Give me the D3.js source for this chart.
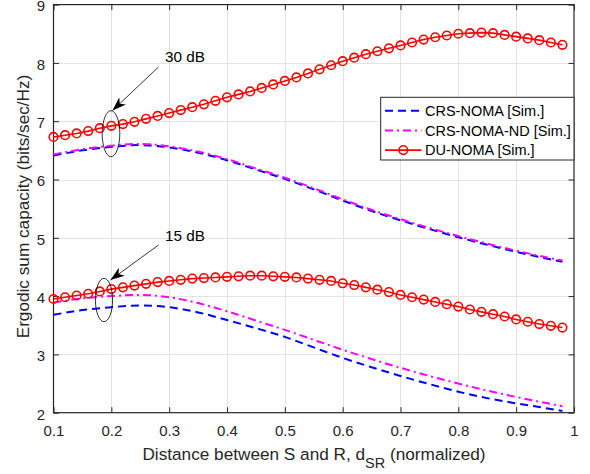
<!DOCTYPE html>
<html>
<head>
<meta charset="utf-8">
<script src="https://cdn.jsdelivr.net/npm/d3@7/dist/d3.min.js"></script>
<style>
  html, body { margin: 0; padding: 0; background: #fff; }
  svg { display: block; font-family: "Liberation Sans", Arial, Helvetica, sans-serif; }
</style>
</head>
<body>
<svg id="chart" width="590" height="474"></svg>
<script>
// Normalized S–R distance at which the DU-NOMA curves are sampled (markers)
const dsrMarkers = [0.10, 0.12, 0.14, 0.16, 0.18, 0.20, 0.22, 0.24, 0.26, 0.28,
                    0.30, 0.32, 0.34, 0.36, 0.38, 0.40, 0.42, 0.44, 0.46, 0.48,
                    0.50, 0.52, 0.54, 0.56, 0.58, 0.60, 0.62, 0.64, 0.66, 0.68,
                    0.70, 0.72, 0.74, 0.76, 0.78, 0.80, 0.82, 0.84, 0.86, 0.88,
                    0.90, 0.92, 0.94, 0.96, 0.98];

// DU-NOMA ergodic sum capacity, 30 dB and 15 dB
const duNoma30 = [6.73, 6.76, 6.79, 6.83, 6.88, 6.92, 6.95, 6.99, 7.04, 7.09,
                  7.14, 7.19, 7.24, 7.29, 7.35, 7.41, 7.46, 7.51, 7.57, 7.63,
                  7.69, 7.75, 7.82, 7.89, 7.96, 8.03, 8.09, 8.15, 8.20, 8.25,
                  8.30, 8.35, 8.40, 8.44, 8.47, 8.50, 8.51, 8.52, 8.51, 8.48,
                  8.45, 8.42, 8.39, 8.35, 8.31];
const duNoma15 = [3.95, 3.98, 4.01, 4.04, 4.08, 4.12, 4.15, 4.18, 4.21, 4.24,
                  4.26, 4.28, 4.30, 4.31, 4.32, 4.33, 4.34, 4.35, 4.35, 4.34,
                  4.33, 4.32, 4.30, 4.28, 4.26, 4.22, 4.19, 4.15, 4.11, 4.07,
                  4.02, 3.98, 3.94, 3.90, 3.86, 3.82, 3.77, 3.73, 3.69, 3.65,
                  3.60, 3.56, 3.52, 3.49, 3.46];

// CRS-NOMA and CRS-NOMA-ND (no markers)
const dsrLine = [0.10, 0.15, 0.20, 0.25, 0.30, 0.35, 0.40, 0.45, 0.50, 0.55,
                 0.60, 0.65, 0.70, 0.75, 0.80, 0.85, 0.90, 0.95, 0.98];
const crsNoma30   = [6.41, 6.50, 6.56, 6.59, 6.55, 6.46, 6.33, 6.17, 6.01, 5.83,
                     5.64, 5.46, 5.30, 5.15, 5.01, 4.88, 4.76, 4.65, 4.59];
const crsNomaNd30 = [6.43, 6.52, 6.58, 6.61, 6.57, 6.48, 6.35, 6.19, 6.03, 5.85,
                     5.66, 5.48, 5.32, 5.17, 5.03, 4.90, 4.78, 4.67, 4.61];
const crsNoma15   = [3.68, 3.76, 3.81, 3.84, 3.81, 3.72, 3.59, 3.45, 3.30, 3.12,
                     2.94, 2.78, 2.63, 2.49, 2.36, 2.25, 2.16, 2.08, 2.03];
const crsNomaNd15 = [3.89, 3.96, 4.00, 4.02, 3.98, 3.88, 3.74, 3.58, 3.42, 3.25,
                     3.08, 2.92, 2.77, 2.63, 2.50, 2.38, 2.27, 2.17, 2.11];

const xTicks = [0.1, 0.2, 0.3, 0.4, 0.5, 0.6, 0.7, 0.8, 0.9, 1];
const xTickLabels = ["0.1", "0.2", "0.3", "0.4", "0.5", "0.6", "0.7", "0.8", "0.9", "1"];
const yTicks = [2, 3, 4, 5, 6, 7, 8, 9];
const legendLabels = ["CRS-NOMA [Sim.]", "CRS-NOMA-ND [Sim.]", "DU-NOMA [Sim.]"];

// ---- layout ----
const svg = d3.select("#chart");
const axisColor = "#262626";
const fontSize = 15;
const labelSize = 17.2;
const plot = { left: 53.5, right: 574, top: 4.6, bottom: 412.7 };

const x = d3.scaleLinear().domain([0.1, 1]).range([plot.left, plot.right]);
const y = d3.scaleLinear().domain([2, 9]).range([plot.bottom, plot.top]);

// grid
const grid = svg.append("g").attr("stroke", "#e3e3e3").attr("stroke-width", 1);
grid.selectAll("line.gx").data(xTicks.slice(1, -1)).join("line")
  .attr("x1", d => Math.round(x(d)) + 0.5).attr("x2", d => Math.round(x(d)) + 0.5)
  .attr("y1", plot.top).attr("y2", plot.bottom);
grid.selectAll("line.gy").data(yTicks.slice(1, -1)).join("line")
  .attr("y1", d => Math.round(y(d)) + 0.5).attr("y2", d => Math.round(y(d)) + 0.5)
  .attr("x1", plot.left).attr("x2", plot.right);

// axes (ticks inward on all four sides)
const tickLen = 5.5;
const fmtX = (d, i) => xTickLabels[i];
function styleAxis(g) {
  g.selectAll("path.domain").remove();
  g.selectAll(".tick line").attr("stroke", axisColor).attr("stroke-width", 1);
  g.selectAll(".tick text").attr("fill", axisColor).attr("font-size", fontSize)
    .attr("font-family", "Liberation Sans, Arial, sans-serif");
}
svg.append("g").attr("transform", `translate(0,${plot.bottom})`)
  .call(d3.axisBottom(x).tickValues(xTicks).tickFormat(fmtX).tickSizeInner(-tickLen).tickSizeOuter(0).tickPadding(13))
  .call(styleAxis);
svg.append("g").attr("transform", `translate(0,${plot.top})`)
  .call(d3.axisTop(x).tickValues(xTicks).tickFormat("").tickSizeInner(-tickLen).tickSizeOuter(0))
  .call(styleAxis);
svg.append("g").attr("transform", `translate(${plot.left},0)`)
  .call(d3.axisLeft(y).tickValues(yTicks).tickFormat(d3.format("d")).tickSizeInner(-tickLen).tickSizeOuter(0).tickPadding(8.5))
  .call(styleAxis)
  .call(g => g.selectAll(".tick text").attr("dy", "0.42em"));
svg.append("g").attr("transform", `translate(${plot.right},0)`)
  .call(d3.axisRight(y).tickValues(yTicks).tickFormat("").tickSizeInner(-tickLen).tickSizeOuter(0))
  .call(styleAxis);

// box
svg.append("rect")
  .attr("x", plot.left).attr("y", plot.top)
  .attr("width", plot.right - plot.left).attr("height", plot.bottom - plot.top)
  .attr("fill", "none").attr("stroke", axisColor).attr("stroke-width", 1.2);

// ---- series ----
const series = svg.append("g");
const smooth = d3.line().x(d => x(d[0])).y(d => y(d[1])).curve(d3.curveMonotoneX);
const zip = (xs, ys) => xs.map((v, i) => [v, ys[i]]);

const styles = {
  crs: { color: "#0000ff", dash: "8,5", width: 2 },
  nd:  { color: "#ff00ff", dash: "8,4,2,4", width: 2 },
  du:  { color: "#ff0000", width: 1.6 }
};

[[crsNoma30, styles.crs], [crsNomaNd30, styles.nd], [crsNoma15, styles.crs], [crsNomaNd15, styles.nd]]
  .forEach(([vals, s]) => {
    series.append("path").datum(zip(dsrLine, vals))
      .attr("d", smooth).attr("fill", "none")
      .attr("stroke", s.color).attr("stroke-width", s.width)
      .attr("stroke-dasharray", s.dash);
  });

[duNoma30, duNoma15].forEach(vals => {
  const pts = zip(dsrMarkers, vals);
  series.append("path").datum(pts)
    .attr("d", d3.line().x(d => x(d[0])).y(d => y(d[1])))
    .attr("fill", "none").attr("stroke", styles.du.color).attr("stroke-width", styles.du.width);
  series.append("g").selectAll("circle").data(pts).join("circle")
    .attr("cx", d => x(d[0])).attr("cy", d => y(d[1])).attr("r", 4.3)
    .attr("fill", "none").attr("stroke", styles.du.color).attr("stroke-width", 1.6);
});

// ---- SNR annotations ----
svg.append("defs").append("marker")
  .attr("id", "arrowhead").attr("viewBox", "0 0 14 10")
  .attr("refX", 14).attr("refY", 5)
  .attr("markerWidth", 14).attr("markerHeight", 10)
  .attr("markerUnits", "userSpaceOnUse").attr("orient", "auto")
  .append("path").attr("d", "M0,0 L14,5 L0,10 L4,5 Z").attr("fill", "#000");

const notes = [
  { label: "30 dB", tx: 165, ty: 61.5, from: [158.5, 67], to: [112.5, 110.5], cx: 111, cy: 133.7, rx: 8.8, ry: 23 },
  { label: "15 dB", tx: 165, ty: 240.5, from: [158.5, 245], to: [110.5, 280], cx: 104, cy: 300, rx: 8.6, ry: 21.7 }
];
const ann = svg.append("g");
notes.forEach(n => {
  ann.append("text").attr("x", n.tx).attr("y", n.ty).attr("font-size", 15.3)
    .attr("fill", "#000").text(n.label);
  ann.append("line").attr("x1", n.from[0]).attr("y1", n.from[1])
    .attr("x2", n.to[0]).attr("y2", n.to[1])
    .attr("stroke", "#000").attr("stroke-width", 0.8).attr("marker-end", "url(#arrowhead)");
  ann.append("ellipse").attr("cx", n.cx).attr("cy", n.cy).attr("rx", n.rx).attr("ry", n.ry)
    .attr("fill", "none").attr("stroke", "#000").attr("stroke-width", 0.8);
});

// ---- legend ----
const lg = svg.append("g");
const lgBox = { x: 380.7, y: 97.3, w: 574 - 380.7, h: 62.7 };
lg.append("rect").attr("x", lgBox.x).attr("y", lgBox.y).attr("width", lgBox.w).attr("height", lgBox.h)
  .attr("fill", "#fff").attr("stroke", axisColor).attr("stroke-width", 1);
const lgRows = [styles.crs, styles.nd, styles.du];
lgRows.forEach((s, i) => {
  const ry = 110.7 + i * 19.7;
  lg.append("line").attr("x1", 385).attr("x2", 421.5).attr("y1", ry).attr("y2", ry)
    .attr("stroke", s.color).attr("stroke-width", s.width)
    .attr("stroke-dasharray", s.dash || null);
  if (i === 2) {
    lg.append("circle").attr("cx", 403.3).attr("cy", ry).attr("r", 4.3)
      .attr("fill", "none").attr("stroke", s.color).attr("stroke-width", 1.6);
  }
  lg.append("text").attr("x", 425).attr("y", ry + 5.2).attr("font-size", 14.5)
    .attr("fill", "#000").text(legendLabels[i]);
});

// ---- axis titles ----
const xt = svg.append("text").attr("x", 314).attr("y", 460).attr("text-anchor", "middle")
  .attr("font-size", labelSize).attr("fill", axisColor);
xt.append("tspan").text("Distance between S and R, d");
xt.append("tspan").attr("dy", 8.3).attr("font-size", 14.5).text("SR");
xt.append("tspan").attr("dy", -8.3).text(" (normalized)");

svg.append("text")
  .attr("transform", `translate(29.3,206.5) rotate(-90)`)
  .attr("text-anchor", "middle").attr("font-size", labelSize).attr("fill", axisColor)
  .text("Ergodic sum capacity (bits/sec/Hz)");
</script>
</body>
</html>
